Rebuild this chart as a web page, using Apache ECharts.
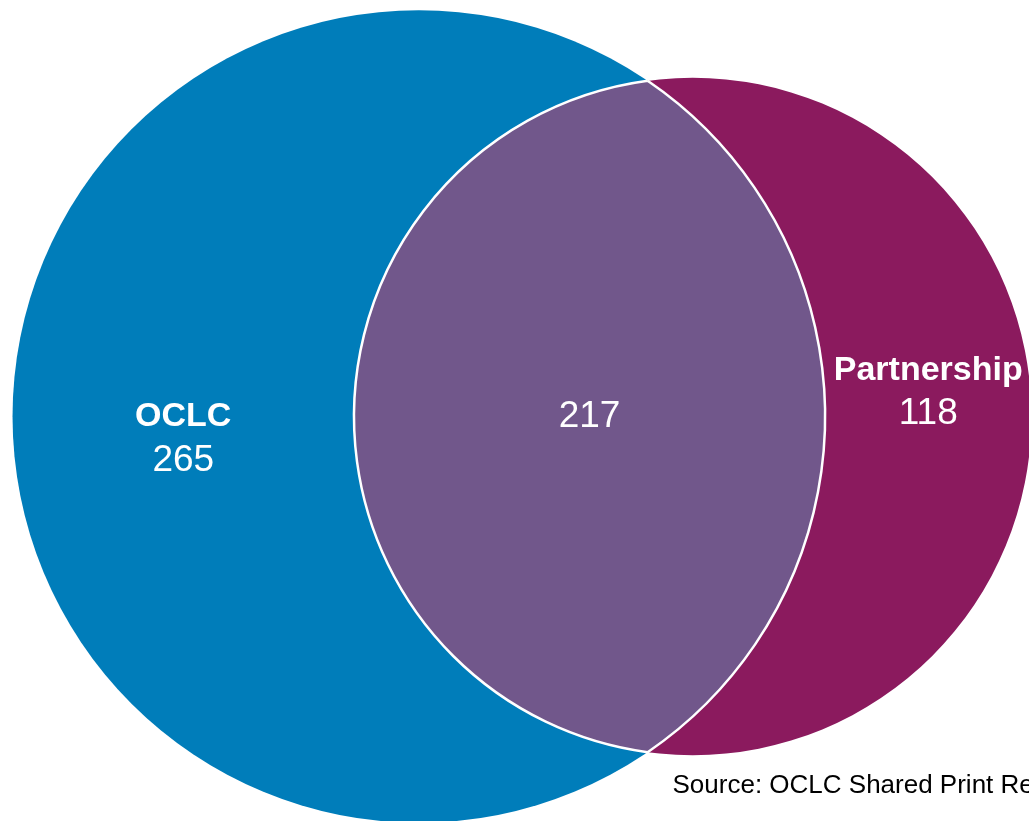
<!DOCTYPE html>
<html>
<head>
<meta charset="utf-8">
<title>OCLC / Partnership overlap</title>
<script src="https://cdn.jsdelivr.net/npm/echarts@6/dist/echarts.min.js"></script>
<style>
  html, body { margin: 0; padding: 0; background: #fff; overflow: hidden; }
  #venn { width: 1029px; height: 821px; }
</style>
</head>
<body>
<div id="venn"></div>
<script>
// values
var setNames = ['OCLC', 'Partnership'];
var onlyCounts = [265, 118];   // held by one program only
var sharedCount = 217;         // held by both
var sourceNote = 'Source: OCLC Shared Print Re';

// look
var setColours = ['#007dba', '#8b1a5e'];
var sharedColour = '#71578b';
var fontName = '"Liberation Sans", Arial, sans-serif';

// layout (pixels)
var W = 1029, H = 821;
var pxPerUnit = 32.8;            // pixels per unit of radius (area = count)
var origin = [418.8, 416.5];     // where the OCLC centre sits
var nameRow = [0, -46];          // y shift of the set name, per set
var countRow = [44, -3];         // y shift of the set-only count, per set

// circle sizes: area equals the count of the set
var totals = [onlyCounts[0] + sharedCount, onlyCounts[1] + sharedCount];
var radii = totals.map(function (t) { return Math.sqrt(t / Math.PI); });

function lensArea(d, r1, r2) {
    if (d >= r1 + r2) return 0;
    if (d <= Math.abs(r1 - r2)) return Math.PI * Math.min(r1, r2) * Math.min(r1, r2);
    var a1 = Math.acos((d * d + r1 * r1 - r2 * r2) / (2 * d * r1));
    var a2 = Math.acos((d * d + r2 * r2 - r1 * r1) / (2 * d * r2));
    var k = Math.sqrt((-d + r1 + r2) * (d + r1 - r2) * (d - r1 + r2) * (d + r1 + r2));
    return r1 * r1 * a1 + r2 * r2 * a2 - k / 2;
}

// distance between the centres so the overlap gets the shared count as area
function centreDistance(r1, r2, target) {
    var lo = Math.abs(r1 - r2), hi = r1 + r2;
    for (var i = 0; i < 60; i++) {
        var mid = (lo + hi) / 2;
        if (lensArea(mid, r1, r2) > target) lo = mid; else hi = mid;
    }
    return (lo + hi) / 2;
}

var dist = centreDistance(radii[0], radii[1], sharedCount);
var centres = [0, dist];

// where the circles cross
var crossX = (dist * dist + radii[0] * radii[0] - radii[1] * radii[1]) / (2 * dist);
var crossY = Math.sqrt(radii[0] * radii[0] - crossX * crossX);

// label x positions: middle of each region along the centre line
var labelX = [
    (-radii[0] + (dist - radii[1])) / 2,
    (radii[0] + dist + radii[1]) / 2,
    ((dist - radii[1]) + radii[0]) / 2
];

function renderRegion(params, api) {
    var i = params.dataIndex;
    if (i < 2) {
        var c = api.coord([centres[i], 0]);
        var r = api.size([radii[i], 0])[0];
        return {
            type: 'circle',
            shape: { cx: c[0], cy: c[1], r: r },
            style: { fill: setColours[i] }
        };
    }
    var top = api.coord([crossX, crossY]);
    var bot = api.coord([crossX, -crossY]);
    var R1 = api.size([radii[0], 0])[0];
    var R2 = api.size([radii[1], 0])[0];
    var bigB = crossX > dist ? 1 : 0;
    var bigA = crossX < 0 ? 1 : 0;
    var d = 'M' + top[0] + ' ' + top[1] +
        ' A' + R2 + ' ' + R2 + ' 0 ' + bigB + ' 0 ' + bot[0] + ' ' + bot[1] +
        ' A' + R1 + ' ' + R1 + ' 0 ' + bigA + ' 0 ' + top[0] + ' ' + top[1] + ' Z';
    return {
        type: 'path',
        shape: { pathData: d },
        style: { fill: sharedColour, stroke: '#fff', lineWidth: 2.5 }
    };
}

function renderLabel(params, api) {
    var i = params.dataIndex;
    var p = api.coord([labelX[i], 0]);
    var kids = [];
    if (i < 2) {
        kids.push({
            type: 'text',
            style: {
                text: setNames[i], x: p[0], y: p[1] + nameRow[i],
                fill: '#fff', fontSize: 34, fontWeight: 'bold', fontFamily: fontName,
                align: 'center', verticalAlign: 'middle'
            }
        });
        kids.push({
            type: 'text',
            style: {
                text: String(onlyCounts[i]), x: p[0], y: p[1] + countRow[i],
                fill: '#fff', fontSize: 37, fontFamily: fontName,
                align: 'center', verticalAlign: 'middle'
            }
        });
    } else {
        kids.push({
            type: 'text',
            style: {
                text: String(sharedCount), x: p[0], y: p[1],
                fill: '#fff', fontSize: 37, fontFamily: fontName,
                align: 'center', verticalAlign: 'middle'
            }
        });
    }
    return { type: 'group', children: kids };
}

var regionData = [[centres[0], 0], [centres[1], 0], [crossX, 0]];
var labelData = labelX.map(function (x) { return [x, 0]; });

try {
    var venn = echarts.init(document.getElementById('venn'), null, { renderer: 'canvas' });
    venn.setOption({
        animation: false,
        backgroundColor: '#fff',
        grid: { left: 0, right: 0, top: 0, bottom: 0 },
        xAxis: {
            type: 'value', show: false,
            min: -origin[0] / pxPerUnit, max: (W - origin[0]) / pxPerUnit
        },
        yAxis: {
            type: 'value', show: false,
            min: -(H - origin[1]) / pxPerUnit, max: origin[1] / pxPerUnit
        },
        graphic: [{
            type: 'text', x: 672.5, y: 786,
            style: {
                text: sourceNote, fill: '#000', fontSize: 26, fontFamily: fontName,
                verticalAlign: 'middle'
            }
        }],
        series: [
            { type: 'custom', silent: true, clip: false, renderItem: renderRegion, data: regionData },
            { type: 'custom', silent: true, clip: false, renderItem: renderLabel, data: labelData }
        ]
    });
} catch (e) {
    console.log(e);
}
</script>
</body>
</html>
